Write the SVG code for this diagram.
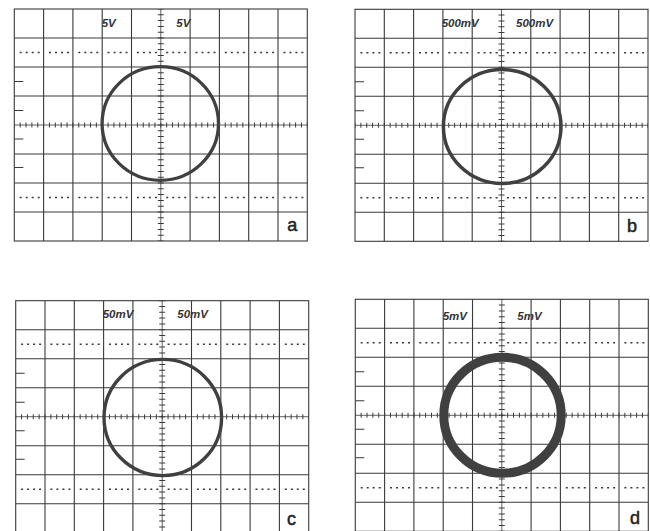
<svg xmlns="http://www.w3.org/2000/svg" xmlns:xlink="http://www.w3.org/1999/xlink" width="650" height="531" viewBox="0 0 650 531">
<style>
.grid{stroke:#3a3a3a;stroke-width:1.1;fill:none}
.dots{stroke:#3a3a3a;stroke-width:1.6;stroke-dasharray:2 4 2 4 2 4 2 9.3;fill:none}
.axis{stroke:#3a3a3a;stroke-width:0.8;fill:none}
.htick{stroke:#3a3a3a;stroke-width:5;stroke-dasharray:1 4.86;stroke-dashoffset:0.5;fill:none}
.vtick{stroke:#3a3a3a;stroke-width:6;stroke-dasharray:1 4.8;stroke-dashoffset:0.5;fill:none}
.trace{stroke:#404040;fill:none}
.lbl{font-family:"Liberation Sans",Arial,sans-serif;font-size:11.5px;font-weight:bold;font-style:italic;fill:#333}
.let{font-family:"Liberation Sans",Arial,sans-serif;font-size:18px;fill:#222;stroke:#222;stroke-width:0.5}
</style>
<defs>
<g id="grid">
<rect class="grid" x="0" y="0" width="293" height="232"/>
<path class="grid" d="M29.3,0V232M58.6,0V232M87.9,0V232M117.2,0V232M175.8,0V232M205.1,0V232M234.4,0V232M263.7,0V232M0,29H293M0,58H293M0,87H293M0,145H293M0,174H293M0,203H293"/>
<path class="dots" d="M5.4,43.5H293M5.4,188.5H293"/>
<path class="axis" d="M0,116H293M146.5,0V232"/>
<path class="htick" d="M0,116H293"/>
<path class="vtick" d="M146.5,0V232"/>
<path class="grid" d="M0,72.5H9M0,101.5H9M0,130H9M0,158.5H9"/>
</g>
</defs>
<g id="panel-a" transform="translate(14.3,9)">
<use xlink:href="#grid"/>
<ellipse class="trace" cx="146" cy="114.5" rx="58.2" ry="56.8" stroke-width="3.3"/>
<text class="lbl" x="87.4" y="18">5V</text>
<text class="lbl" x="162" y="18">5V</text>
<text class="let" x="273" y="222">a</text>
</g>
<g id="panel-b" transform="translate(355,9.3)">
<use xlink:href="#grid"/>
<ellipse class="trace" cx="147.2" cy="117.2" rx="58.8" ry="57" stroke-width="3.5"/>
<text class="lbl" x="86.7" y="18">500mV</text>
<text class="lbl" x="161" y="18">500mV</text>
<text class="let" x="272" y="222.7">b</text>
</g>
<g id="panel-c" transform="translate(15.7,300.7)">
<use xlink:href="#grid"/>
<ellipse class="trace" cx="147.1" cy="116.8" rx="58.8" ry="58.1" stroke-width="3.4"/>
<text class="lbl" x="87" y="17.6">50mV</text>
<text class="lbl" x="161.6" y="17.6">50mV</text>
<text class="let" x="271.3" y="224.3">c</text>
</g>
<g id="panel-d" transform="translate(355.3,299.3)">
<use xlink:href="#grid"/>
<ellipse class="trace" cx="147.2" cy="115.9" rx="58.7" ry="58" stroke-width="9"/>
<text class="lbl" x="87.4" y="21">5mV</text>
<text class="lbl" x="162" y="21">5mV</text>
<text class="let" x="274.7" y="224.7">d</text>
</g>
</svg>
